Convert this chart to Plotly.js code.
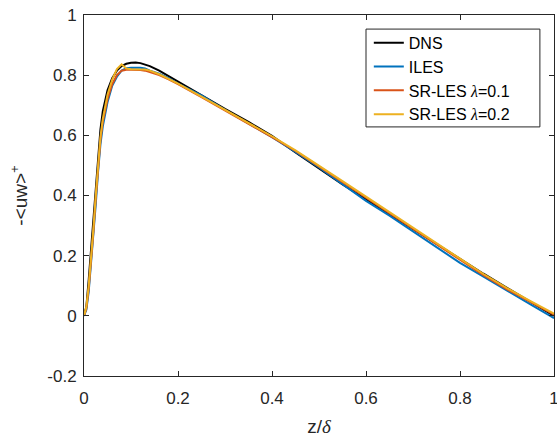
<!DOCTYPE html>
<html>
<head>
<meta charset="utf-8">
<script src="https://cdn.plot.ly/plotly-3.0.1.min.js"></script>
<style>html,body{margin:0;padding:0;background:#fff;}#chart{width:557px;height:438px;}</style>
</head>
<body>
<div id="chart"></div>
<script>
// ---- data ----
var zDNS = [0, 0.005, 0.01, 0.015, 0.02, 0.025, 0.03, 0.035, 0.04, 0.05, 0.06, 0.07, 0.08, 0.09, 0.1, 0.11, 0.12, 0.14, 0.16, 0.18, 0.2, 0.25, 0.3, 0.35, 0.4, 0.45, 0.5, 0.55, 0.6, 0.65, 0.7, 0.75, 0.8, 0.85, 0.9, 0.95, 1.0];
var uwDNS = [0, 0.03, 0.12, 0.22, 0.32, 0.43, 0.54, 0.62, 0.68, 0.75, 0.79, 0.815, 0.83, 0.838, 0.841, 0.842, 0.84, 0.83, 0.815, 0.797, 0.778, 0.732, 0.688, 0.645, 0.598, 0.543, 0.49, 0.437, 0.388, 0.338, 0.288, 0.238, 0.188, 0.14, 0.093, 0.046, 0.0];

var zLES = [0, 0.005, 0.01, 0.015, 0.02, 0.025, 0.03, 0.035, 0.04, 0.05, 0.06, 0.07, 0.08, 0.09, 0.1, 0.11, 0.12, 0.13, 0.14, 0.16, 0.18, 0.2, 0.25, 0.3, 0.35, 0.4, 0.45, 0.5, 0.55, 0.6, 0.65, 0.7, 0.75, 0.8, 0.85, 0.9, 0.95, 1.0];
var uwILES = [0, 0.02, 0.08, 0.17, 0.27, 0.37, 0.48, 0.57, 0.63, 0.71, 0.765, 0.795, 0.815, 0.823, 0.825, 0.826, 0.825, 0.822, 0.815, 0.805, 0.79, 0.772, 0.733, 0.685, 0.64, 0.594, 0.545, 0.493, 0.438, 0.382, 0.333, 0.28, 0.228, 0.176, 0.13, 0.085, 0.038, -0.008];
var uwSR01 = [0, 0.025, 0.09, 0.18, 0.28, 0.39, 0.5, 0.585, 0.645, 0.72, 0.77, 0.80, 0.815, 0.818, 0.818, 0.818, 0.817, 0.815, 0.81, 0.80, 0.786, 0.77, 0.727, 0.683, 0.638, 0.594, 0.548, 0.497, 0.445, 0.393, 0.341, 0.29, 0.238, 0.186, 0.135, 0.088, 0.045, 0.004];
var uwSR02 = [0, 0.03, 0.1, 0.19, 0.29, 0.4, 0.51, 0.595, 0.655, 0.735, 0.785, 0.82, 0.836, 0.822, 0.82, 0.82, 0.82, 0.819, 0.815, 0.803, 0.788, 0.772, 0.729, 0.685, 0.641, 0.597, 0.55, 0.5, 0.448, 0.396, 0.344, 0.293, 0.241, 0.19, 0.139, 0.092, 0.049, 0.007];

var seriesNames = ['DNS', 'ILES', 'SR-LES <span style="font-family:\'Liberation Serif\'"><i>λ</i></span>=0.1', 'SR-LES <span style="font-family:\'Liberation Serif\'"><i>λ</i></span>=0.2'];
var xTickVals = [0, 0.2, 0.4, 0.6, 0.8, 1];
var xTickText = ['0', '0.2', '0.4', '0.6', '0.8', '1'];
var yTickVals = [-0.2, 0, 0.2, 0.4, 0.6, 0.8, 1];
var yTickText = ['-0.2', '0', '0.2', '0.4', '0.6', '0.8', '1'];

// ---- chart ----
var colors = ['#000000', '#0072BD', '#D95319', '#EDB120'];
var xs = [zDNS, zLES, zLES, zLES];
var ys = [uwDNS, uwILES, uwSR01, uwSR02];
var traces = ys.map(function (y, i) {
  return {x: xs[i], y: y, name: seriesNames[i], type: 'scatter', mode: 'lines',
    line: {color: colors[i], width: 2}};
});

var axisCommon = {
  showgrid: false, zeroline: false, showline: true, linecolor: '#262626', linewidth: 1,
  mirror: 'ticks', ticks: 'inside', ticklen: 5, tickcolor: '#262626', tickwidth: 1,
  tickfont: {family: 'Liberation Sans, Arial, sans-serif', size: 17, color: '#262626'},
  tickmode: 'array', ticklabeloverflow: 'allow', automargin: false
};

var layout = {
  width: 557, height: 438,
  margin: {l: 84, r: 3, t: 15, b: 62},
  paper_bgcolor: '#fff', plot_bgcolor: '#fff',
  font: {family: 'Liberation Sans, Arial, sans-serif', color: '#000'},
  xaxis: Object.assign({}, axisCommon, {
    range: [0, 1], tickvals: xTickVals, ticktext: xTickText, ticklabelstandoff: 7,
    title: {text: 'z/<span style="font-family:\'Liberation Serif\'"><i>δ</i></span>', font: {size: 19, color: '#262626'}, standoff: 12}
  }),
  yaxis: Object.assign({}, axisCommon, {
    range: [-0.2, 1], tickvals: yTickVals, ticktext: yTickText, ticklabelstandoff: 3,
    title: {text: '-&lt;uw&gt;<sup>+</sup>', font: {size: 19, color: '#262626'}, standoff: 14}
  }),
  shapes: [{
    type: 'rect', xref: 'paper', yref: 'paper', layer: 'below',
    x0: 0.6, x1: 0.970, y0: 0.690, y1: 0.961,
    line: {color: '#262626', width: 1}, fillcolor: '#fff'
  }],
  showlegend: true,
  legend: {
    x: 0.606, y: 0.97, xanchor: 'left', yanchor: 'top',
    bgcolor: 'rgba(0,0,0,0)', borderwidth: 0,
    font: {family: 'Liberation Sans, Arial, sans-serif', size: 16, color: '#000'},
    tracegroupgap: 0
  }
};

Plotly.newPlot('chart', traces, layout, {displayModeBar: false, staticPlot: true});
</script>
</body>
</html>
